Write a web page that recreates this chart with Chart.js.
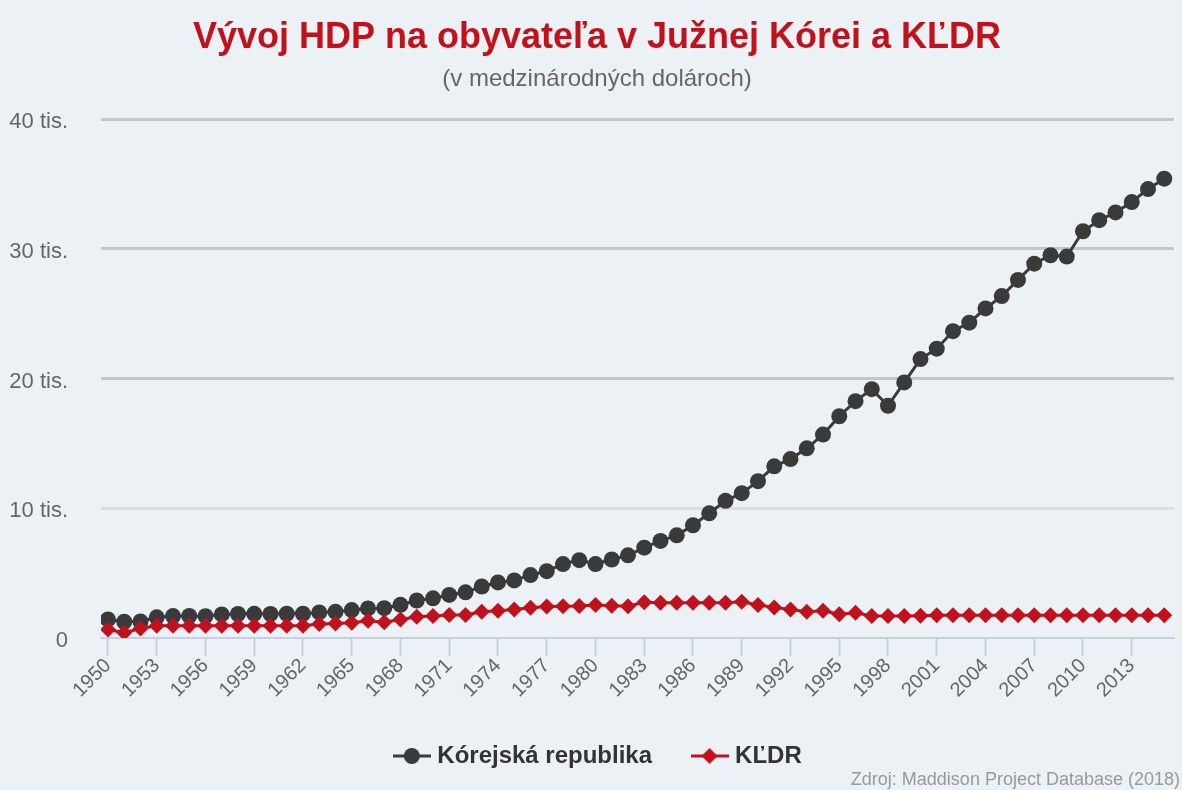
<!DOCTYPE html>
<html>
<head>
<meta charset="utf-8">
<script src="https://cdn.jsdelivr.net/npm/chart.js@4"></script>
<style>
  html, body { margin: 0; padding: 0; background: #ecf1f6; }
  .chart-box { position: relative; width: 1182px; height: 790px; }
</style>
</head>
<body>
<div class="chart-box"><canvas id="chart"></canvas></div>
<script>
const years = [1950, 1951, 1952, 1953, 1954, 1955, 1956, 1957, 1958, 1959,
  1960, 1961, 1962, 1963, 1964, 1965, 1966, 1967, 1968, 1969,
  1970, 1971, 1972, 1973, 1974, 1975, 1976, 1977, 1978, 1979,
  1980, 1981, 1982, 1983, 1984, 1985, 1986, 1987, 1988, 1989,
  1990, 1991, 1992, 1993, 1994, 1995, 1996, 1997, 1998, 1999,
  2000, 2001, 2002, 2003, 2004, 2005, 2006, 2007, 2008, 2009,
  2010, 2011, 2012, 2013, 2014, 2015];

// Kórejská republika, HDP na obyvateľa
const southKorea = [1430, 1250, 1270, 1590, 1690, 1700, 1680, 1820, 1850, 1860,
  1850, 1870, 1870, 1970, 2020, 2150, 2280, 2300, 2560, 2890,
  3060, 3320, 3520, 3970, 4280, 4440, 4850, 5150, 5700, 6000,
  5700, 6050, 6370, 6960, 7480, 7910, 8690, 9610, 10570, 11160,
  12090, 13230, 13790, 14620, 15680, 17090, 18250, 19180, 17900, 19700,
  21500, 22300, 23650, 24300, 25400, 26350, 27600, 28850, 29500, 29400,
  31350, 32200, 32800, 33600, 34600, 35400];

// KĽDR
const northKorea = [660, 400, 730, 940, 940, 940, 940, 940, 940, 940,
  940, 940, 940, 1070, 1120, 1170, 1330, 1220, 1430, 1640,
  1690, 1770, 1770, 2020, 2100, 2200, 2330, 2430, 2450, 2460,
  2550, 2480, 2450, 2750, 2720, 2720, 2720, 2720, 2720, 2800,
  2540, 2360, 2200, 2020, 2100, 1840, 1940, 1690, 1690, 1690,
  1720, 1760, 1760, 1760, 1760, 1760, 1760, 1760, 1760, 1760,
  1760, 1760, 1760, 1760, 1760, 1760];

const yearTicks = [1950, 1953, 1956, 1959, 1962, 1965, 1968, 1971, 1974, 1977,
  1980, 1983, 1986, 1989, 1992, 1995, 1998, 2001, 2004, 2007, 2010, 2013];
const valueTicks = [0, 10000, 20000, 30000, 40000];

const seriesNames = ['Kórejská republika', 'KĽDR'];
const FONT = '"Liberation Sans", Arial, Helvetica, sans-serif';
const DARK = '#3a3a3a';
const RED = '#c0111d';

function legendMarker(color, shape) {
  const c = document.createElement('canvas');
  c.width = 38; c.height = 18;
  const ctx = c.getContext('2d');
  ctx.strokeStyle = color;
  ctx.fillStyle = color;
  ctx.lineWidth = 3;
  ctx.beginPath(); ctx.moveTo(0, 9); ctx.lineTo(38, 9); ctx.stroke();
  ctx.beginPath();
  if(shape === 'circle') {
    ctx.arc(19, 9, 8, 0, Math.PI * 2);
  } else {
    ctx.moveTo(19, 1); ctx.lineTo(27, 9); ctx.lineTo(19, 17); ctx.lineTo(11, 9); ctx.closePath();
  }
  ctx.fill();
  return c;
}
const markers = [legendMarker(DARK, 'circle'), legendMarker(RED, 'diamond')];

// the original header and legend sit a few px right of the canvas centre
const nudgePlugin = {
  id: 'nudge',
  afterLayout(chart) {
    chart.boxes.forEach(b => {
      if(b.position === 'top' && b.options && typeof b.options.text === 'string') {
        b.left += 6; b.right += 6;
      }
    });
    const lg = chart.legend;
    lg.left += 9; lg.right += 9;
    lg.top -= 2; lg.bottom -= 2;
  }
};

const creditPlugin = {
  id: 'credit',
  afterDraw(chart) {
    const ctx = chart.ctx;
    ctx.save();
    ctx.font = '18px ' + FONT;
    ctx.fillStyle = '#999999';
    ctx.textAlign = 'right';
    ctx.textBaseline = 'alphabetic';
    ctx.fillText('Zdroj: Maddison Project Database (2018)', chart.width - 2, chart.height - 5);
    ctx.restore();
  }
};

const data = {
  datasets: [
    {
      label: seriesNames[0],
      data: years.map((y, i) => ({x: y, y: southKorea[i]})),
      borderColor: DARK,
      backgroundColor: DARK,
      borderWidth: 3,
      pointStyle: 'circle',
      pointRadius: 8,
      pointBorderWidth: 0,
      order: 1
    },
    {
      label: seriesNames[1],
      data: years.map((y, i) => ({x: y, y: northKorea[i]})),
      borderColor: RED,
      backgroundColor: RED,
      borderWidth: 3,
      pointStyle: 'rectRot',
      pointRadius: 8,
      pointBorderWidth: 0,
      order: 0
    }
  ]
};

const config = {
  type: 'line',
  data: data,
  plugins: [nudgePlugin, creditPlugin],
  options: {
    responsive: true,
    maintainAspectRatio: false,
    animation: false,
    events: [],
    layout: { padding: { left: 0, right: 0, top: 0, bottom: 10 } },
    scales: {
      x: {
        type: 'linear',
        min: 1949.57,
        max: 2015.6,
        clip: false,
        afterBuildTicks: scale => { scale.ticks = yearTicks.map(v => ({value: v})); },
        afterFit: scale => { scale.height = 64; },
        ticks: {
          color: '#666666',
          font: { family: FONT, size: 20 },
          minRotation: 45,
          maxRotation: 45,
          padding: -2,
          callback: v => String(v)
        },
        grid: {
          drawOnChartArea: false,
          tickLength: 18,
          tickColor: '#c5d0e2',
          tickWidth: 2
        },
        border: { color: '#c5d0e2', width: 2 }
      },
      y: {
        min: 0,
        max: 40000,
        afterBuildTicks: scale => { scale.ticks = valueTicks.map(v => ({value: v})); },
        afterFit: scale => { scale.width = 101; },
        ticks: {
          color: '#666666',
          font: { family: FONT, size: 22 },
          padding: 33,
          labelOffset: 3,
          callback: v => v === 0 ? '0' : (v / 1000) + ' tis.'
        },
        grid: {
          drawTicks: false,
          lineWidth: 3,
          color: ctx => {
            if(ctx.tick.value === 0) return 'rgba(0,0,0,0)';
            if(ctx.tick.value === 10000) return '#dcdfe2';
            return '#c4c6c9';
          }
        },
        border: { display: false }
      }
    },
    plugins: {
      title: {
        display: true,
        text: 'Vývoj HDP na obyvateľa v Južnej Kórei a KĽDR',
        color: '#c1121c',
        font: { family: FONT, size: 36, weight: 'bold' },
        padding: { top: 16, bottom: 0 }
      },
      subtitle: {
        display: true,
        text: '(v medzinárodných dolároch)',
        color: '#666666',
        font: { family: FONT, size: 24 },
        padding: { top: 6, bottom: 25 }
      },
      legend: {
        position: 'bottom',
        labels: {
          color: '#333333',
          font: { family: FONT, size: 24, weight: 'bold' },
          usePointStyle: true,
          pointStyleWidth: 27,
          padding: 44,
          sort: (a, b) => a.datasetIndex - b.datasetIndex,
          generateLabels: chart => {
            const items = Chart.defaults.plugins.legend.labels.generateLabels(chart);
            items.forEach(item => { item.pointStyle = markers[item.datasetIndex]; });
            return items;
          }
        }
      },
      tooltip: { enabled: false }
    }
  }
};

new Chart(document.getElementById('chart'), config);
</script>
</body>
</html>
